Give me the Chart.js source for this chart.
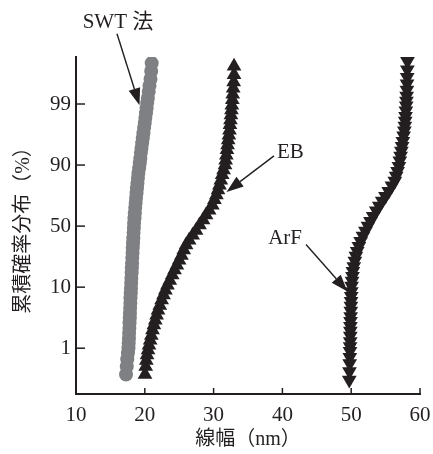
<!DOCTYPE html>
<html>
<head>
<meta charset="utf-8">
<script src="https://cdn.jsdelivr.net/npm/chart.js@4.4.1/dist/chart.umd.min.js"></script>
<style>
  html, body { margin: 0; padding: 0; background: #fff; }
  #grafico { display: block; }
</style>
</head>
<body>
<canvas id="grafico" width="433" height="454"></canvas>
<script>
const TINTA = '#231f20';
const CINZA = '#7f8083';
const FONTE = "'Liberation Serif', 'Noto Sans CJK JP', serif";

// eixo de probabilidade com marcas igualmente espaçadas (posição 0..4)
const posTicksY = [0, 1, 2, 3, 4];
const rotulosY = ['1', '10', '50', '90', '99'];

// SWT 法 (círculos cinza)
const swtX = [17.27, 17.38, 17.45, 17.55, 17.63, 17.66, 17.70, 17.72, 17.76, 17.78,
  17.82, 17.84, 17.87, 17.90, 17.92, 17.96, 17.99, 18.02, 18.05, 18.09,
  18.12, 18.15, 18.18, 18.22, 18.25, 18.29, 18.33, 18.37, 18.41, 18.44,
  18.50, 18.55, 18.61, 18.67, 18.73, 18.80, 18.86, 18.93, 19.00, 19.07,
  19.18, 19.27, 19.35, 19.43, 19.52, 19.62, 19.71, 19.80, 19.90, 19.99,
  20.08, 20.17, 20.26, 20.35, 20.45, 20.57, 20.68, 20.83, 20.93, 21.00];
const swtY = [-0.43, -0.30, -0.18, -0.08, 0.00, 0.08, 0.16, 0.25, 0.33, 0.41,
  0.49, 0.57, 0.66, 0.74, 0.82, 0.90, 0.98, 1.07, 1.15, 1.23,
  1.31, 1.39, 1.48, 1.56, 1.64, 1.72, 1.80, 1.89, 1.97, 2.05,
  2.13, 2.21, 2.30, 2.38, 2.46, 2.54, 2.62, 2.70, 2.79, 2.87,
  2.95, 3.03, 3.11, 3.20, 3.28, 3.36, 3.44, 3.52, 3.61, 3.69,
  3.77, 3.85, 3.93, 4.02, 4.10, 4.20, 4.30, 4.41, 4.54, 4.67];

// EB (triângulos para cima)
const ebX = [20.03, 20.13, 20.22, 20.33, 20.47, 20.61, 20.78, 20.95, 21.12, 21.32,
  21.52, 21.72, 21.92, 22.18, 22.45, 22.72, 22.99, 23.29, 23.63, 23.98,
  24.32, 24.66, 24.99, 25.33, 25.66, 26.00, 26.44, 26.95, 27.45, 27.95,
  28.46, 28.90, 29.35, 29.82, 30.12, 30.41, 30.64, 30.85, 31.05, 31.25,
  31.45, 31.66, 31.75, 31.85, 31.94, 32.03, 32.12, 32.22, 32.31, 32.38,
  32.45, 32.52, 32.59, 32.65, 32.72, 32.78, 32.85, 32.92, 32.97, 32.97];
const ebY = [-0.43, -0.30, -0.20, -0.11, -0.03, 0.05, 0.13, 0.21, 0.30, 0.38,
  0.46, 0.54, 0.62, 0.70, 0.79, 0.87, 0.95, 1.03, 1.11, 1.20,
  1.28, 1.36, 1.44, 1.52, 1.61, 1.69, 1.77, 1.85, 1.93, 2.02,
  2.10, 2.18, 2.26, 2.34, 2.43, 2.51, 2.59, 2.67, 2.75, 2.84,
  2.92, 3.00, 3.08, 3.16, 3.25, 3.33, 3.41, 3.49, 3.57, 3.66,
  3.74, 3.82, 3.90, 3.98, 4.07, 4.16, 4.26, 4.36, 4.48, 4.62];

// ArF (triângulos para baixo)
const arfX = [49.72, 49.75, 49.78, 49.80, 49.83, 49.84, 49.86, 49.87, 49.88, 49.89,
  49.90, 49.92, 49.94, 49.96, 49.98, 50.00, 50.02, 50.06, 50.13, 50.19,
  50.25, 50.38, 50.53, 50.68, 50.87, 51.12, 51.37, 51.71, 52.07, 52.44,
  52.80, 53.20, 53.64, 54.08, 54.51, 54.98, 55.45, 55.92, 56.34, 56.54,
  56.74, 56.94, 57.07, 57.18, 57.29, 57.40, 57.51, 57.62, 57.73, 57.80,
  57.85, 57.90, 57.95, 58.00, 58.03, 58.06, 58.10, 58.12, 58.14, 58.16,
  58.18];
const arfY = [-0.52, -0.38, -0.25, -0.15, -0.05, 0.03, 0.11, 0.20, 0.28, 0.36,
  0.44, 0.52, 0.61, 0.69, 0.77, 0.85, 0.93, 1.02, 1.10, 1.18,
  1.26, 1.34, 1.43, 1.51, 1.59, 1.67, 1.75, 1.84, 1.92, 2.00,
  2.08, 2.16, 2.25, 2.33, 2.41, 2.49, 2.57, 2.66, 2.74, 2.82,
  2.90, 2.98, 3.07, 3.15, 3.23, 3.31, 3.39, 3.48, 3.56, 3.64,
  3.72, 3.80, 3.89, 3.97, 4.05, 4.13, 4.23, 4.33, 4.44, 4.56,
  4.70];

// rótulos com seta: texto, posição do texto e seta (de -> até), em unidades dos eixos
const notas = [
  { texto: 'SWT 法', tx: 16.1, ty: 5.34, alinha: 'center', de: [15.96, 5.15], ate: [19.23, 3.98] },
  { texto: 'EB', tx: 39.2, ty: 3.2, alinha: 'left', de: [38.78, 3.15], ate: [31.88, 2.56] },
  { texto: 'ArF', tx: 42.85, ty: 1.8, alinha: 'right', de: [43.43, 1.70], ate: [49.46, 0.93] }
];

const pontos = (xs, ys) => xs.map((v, i) => ({ x: v, y: ys[i] }));

function seta(ctx, x0, y0, x1, y1) {
  const ang = Math.atan2(y1 - y0, x1 - x0);
  const comp = 17, meia = 6;
  const bx = x1 - Math.cos(ang) * comp;
  const by = y1 - Math.sin(ang) * comp;
  ctx.beginPath();
  ctx.moveTo(x0, y0);
  ctx.lineTo(bx, by);
  ctx.stroke();
  ctx.beginPath();
  ctx.moveTo(x1, y1);
  ctx.lineTo(bx + Math.sin(ang) * meia, by - Math.cos(ang) * meia);
  ctx.lineTo(bx - Math.sin(ang) * meia, by + Math.cos(ang) * meia);
  ctx.closePath();
  ctx.fill();
}

// marcas de escala para dentro + setas e rótulos
const extras = {
  id: 'extras',
  afterDraw(chart) {
    const { ctx, chartArea: a, scales: { x, y } } = chart;
    ctx.save();
    ctx.strokeStyle = TINTA;
    ctx.fillStyle = TINTA;
    ctx.lineWidth = 1.5;
    x.ticks.forEach(t => {
      const px = x.getPixelForValue(t.value);
      ctx.beginPath();
      ctx.moveTo(px, a.bottom);
      ctx.lineTo(px, a.bottom - 6);
      ctx.stroke();
    });
    y.ticks.forEach(t => {
      const py = y.getPixelForValue(t.value);
      ctx.beginPath();
      ctx.moveTo(a.left, py);
      ctx.lineTo(a.left + 9, py);
      ctx.stroke();
    });

    ctx.lineWidth = 1.4;
    ctx.font = '21px ' + FONTE;
    ctx.textBaseline = 'middle';
    notas.forEach(n => {
      seta(ctx,
        x.getPixelForValue(n.de[0]), y.getPixelForValue(n.de[1]),
        x.getPixelForValue(n.ate[0]), y.getPixelForValue(n.ate[1]));
      ctx.textAlign = n.alinha;
      ctx.fillText(n.texto, x.getPixelForValue(n.tx), y.getPixelForValue(n.ty));
    });
    ctx.restore();
  }
};

new Chart(document.getElementById('grafico'), {
  type: 'scatter',
  data: {
    datasets: [
      { label: 'SWT 法', data: pontos(swtX, swtY), pointStyle: 'circle', pointRadius: 7,
        backgroundColor: CINZA, borderWidth: 0 },
      { label: 'EB', data: pontos(ebX, ebY), pointStyle: 'triangle', pointRadius: 8.5,
        backgroundColor: TINTA, borderWidth: 0 },
      { label: 'ArF', data: pontos(arfX, arfY), pointStyle: 'triangle', pointRadius: 8.5,
        pointRotation: 180, backgroundColor: TINTA, borderWidth: 0 }
    ]
  },
  options: {
    responsive: false,
    devicePixelRatio: 1,
    animation: false,
    events: [],
    layout: { padding: { top: 57, right: 13, left: 0, bottom: 0 } },
    plugins: { legend: { display: false }, tooltip: { enabled: false } },
    scales: {
      x: {
        type: 'linear',
        min: 10, max: 60,
        afterFit: s => { s.height = 60; s.paddingLeft = 0; s.paddingRight = 0; },
        border: { display: true, color: TINTA, width: 2 },
        grid: { drawOnChartArea: false, drawTicks: false },
        ticks: { stepSize: 10, padding: 9, color: TINTA, font: { family: FONTE, size: 21 } },
        title: { display: true, text: '線幅（nm）', color: TINTA, padding: { top: 2, bottom: 2 },
          font: { family: FONTE, size: 20 } }
      },
      y: {
        type: 'linear',
        min: -0.75, max: 4.77,
        afterFit: s => { s.width = 76; },
        afterBuildTicks: s => { s.ticks = posTicksY.map(v => ({ value: v })); },
        border: { display: true, color: TINTA, width: 2 },
        grid: { drawOnChartArea: false, drawTicks: false },
        ticks: { autoSkip: false, padding: 5, color: TINTA, font: { family: FONTE, size: 21 },
          callback: v => rotulosY[posTicksY.indexOf(v)] },
        title: { display: true, text: '累積確率分布（%）', color: TINTA, padding: { top: 12, bottom: 12 },
          font: { family: FONTE, size: 20 } }
      }
    }
  },
  plugins: [extras]
});
</script>
</body>
</html>
